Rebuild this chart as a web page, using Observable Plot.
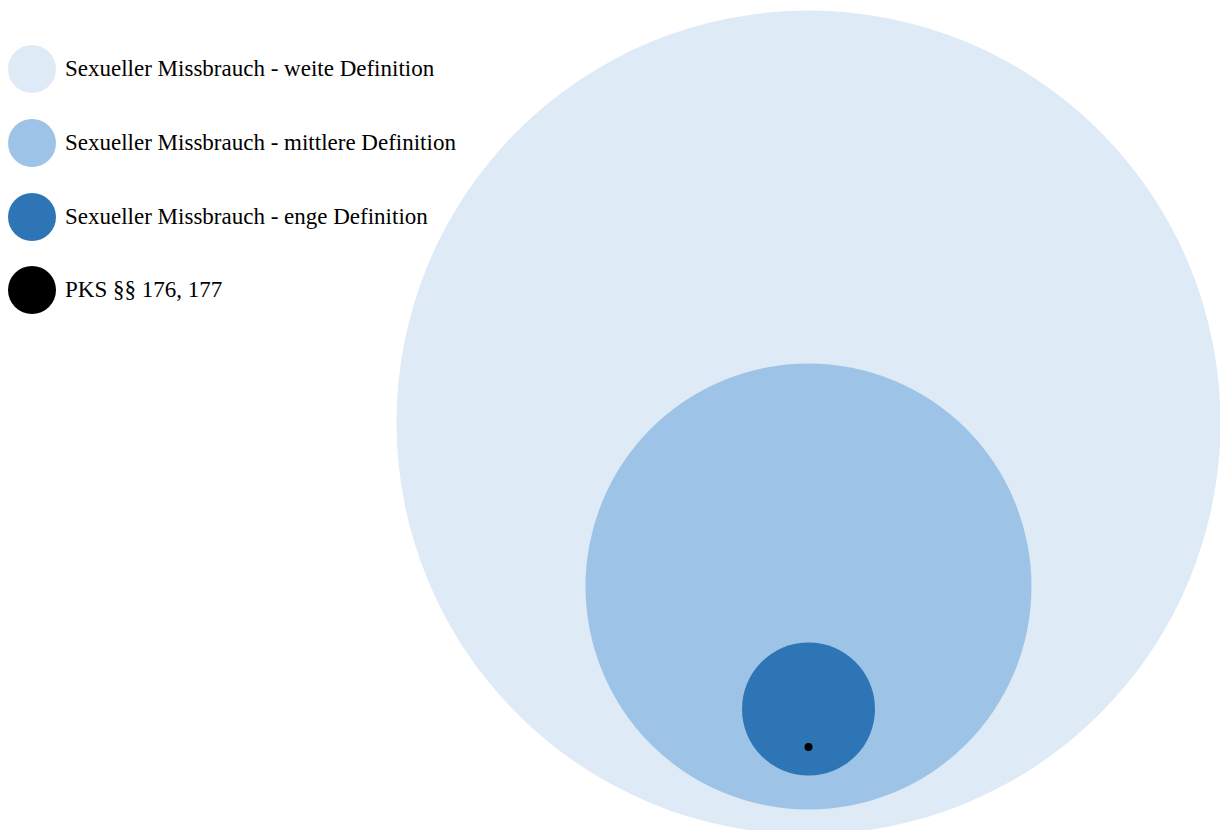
<!DOCTYPE html>
<html>
<head>
<meta charset="utf-8">
<script src="https://cdn.jsdelivr.net/npm/d3@7"></script>
<script src="https://cdn.jsdelivr.net/npm/@observablehq/plot@0.6"></script>
<style>
  html, body { margin: 0; padding: 0; background: #fff; }
  #wrap { position: relative; width: 1220px; height: 830px; overflow: hidden; }
  #legend { position: absolute; left: 0; top: 0; font-family: "Liberation Serif", "Times New Roman", serif; font-size: 23px; color: #000; }
  .item { position: absolute; left: 8px; height: 48px; display: flex; align-items: center; white-space: nowrap; }
  .item svg { margin-right: 9px; }
</style>
</head>
<body>
<div id="wrap"><div id="legend"></div></div>
<script>
// Categories (outer to inner)
const categories = [
  "Sexueller Missbrauch - weite Definition",
  "Sexueller Missbrauch - mittlere Definition",
  "Sexueller Missbrauch - enge Definition",
  "PKS §§ 176, 177"
];
// Relative size (area units) of each circle
const sizes = [169744, 49729, 4422, 16];
// Center positions of circles (chart units)
const centerX = [808, 808, 808, 808];
const centerY = [422, 586, 708.5, 746.5];
const colors = ["#deebf7", "#9dc3e6", "#2e75b6", "#000000"];

const data = categories.map((c, i) => ({category: c, size: sizes[i], cx: centerX[i], cy: centerY[i]}));

const chart = Plot.plot({
  width: 1220,
  height: 830,
  margin: 0,
  x: {domain: [0, 1220], range: [0, 1220], axis: null},
  y: {domain: [0, 830], range: [0, 830], axis: null},
  r: {type: "sqrt", domain: [0, d3.max(sizes)], range: [0, 412]},
  color: {domain: categories, range: colors},
  marks: [
    Plot.dot(data, {x: "cx", y: "cy", r: "size", fill: "category", stroke: null, sort: null})
  ]
});
document.getElementById("wrap").prepend(chart);

const legend = document.getElementById("legend");
const legendTop = [45, 119, 193, 266];
categories.forEach((c, i) => {
  const item = document.createElement("div");
  item.className = "item";
  item.style.top = legendTop[i] + "px";
  item.innerHTML = `<svg width="48" height="48"><circle cx="24" cy="24" r="24" fill="${colors[i]}"/></svg><span>${c}</span>`;
  legend.appendChild(item);
});
</script>
</body>
</html>
